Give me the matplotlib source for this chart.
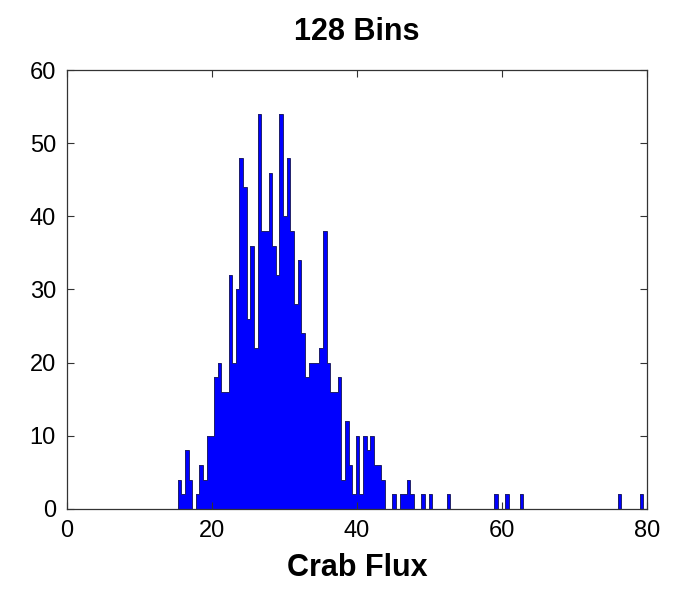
import numpy as np
import matplotlib.pyplot as plt

# histogram of crab flux, 128 bins (counts)
flux_min = 15.25
flux_max = 79.45
n_bins = 128

counts = [4, 2, 8, 4, 0, 2, 6, 4, 10, 10,
          18, 20, 16, 16, 32, 20, 30, 48, 44, 26,
          36, 22, 54, 38, 38, 46, 36, 32, 54, 40,
          48, 38, 28, 34, 24, 18, 20, 20, 20, 22,
          38, 20, 16, 16, 18, 4, 12, 6, 2, 10,
          2, 10, 8, 10, 6, 6, 4, 0, 0, 2,
          0, 2, 2, 4, 2, 0, 0, 2, 0, 2,
          0, 0, 0, 0, 2]
counts = counts + [0] * (n_bins - len(counts))
counts[87] = 2
counts[90] = 2
counts[94] = 2
counts[121] = 2
counts[127] = 2

xticks = [0, 20, 40, 60, 80]
yticks = [0, 10, 20, 30, 40, 50, 60]

plt.rcParams['font.family'] = ['Liberation Sans', 'DejaVu Sans']

fig = plt.figure(figsize=(6.77, 6.05), dpi=100)
ax = fig.add_axes([0.099, 0.159, 0.857, 0.725])

edges = np.linspace(flux_min, flux_max, n_bins + 1)
# solid fill with a thin dark outline of the step profile
ax.stairs(counts, edges, fill=True, color='#0000ff', linewidth=0)
ax.stairs(counts, edges, color='#20206a', linewidth=0.7)

ax.set_xlim(0, 80)
ax.set_ylim(0, 60)
ax.set_xticks(xticks)
ax.set_yticks(yticks)
ax.tick_params(direction='in', length=5, width=0.8, labelsize=17,
               top=True, right=True, pad=8, labelcolor='black', color='#333333')
for s in ax.spines.values():
    s.set_linewidth(0.9)
    s.set_color('#333333')

ax.set_title('128 Bins', fontsize=22, fontweight='bold', pad=22)
ax.set_xlabel('Crab Flux', fontsize=22, fontweight='bold', labelpad=8)

fig.savefig('out.png', dpi=100)
